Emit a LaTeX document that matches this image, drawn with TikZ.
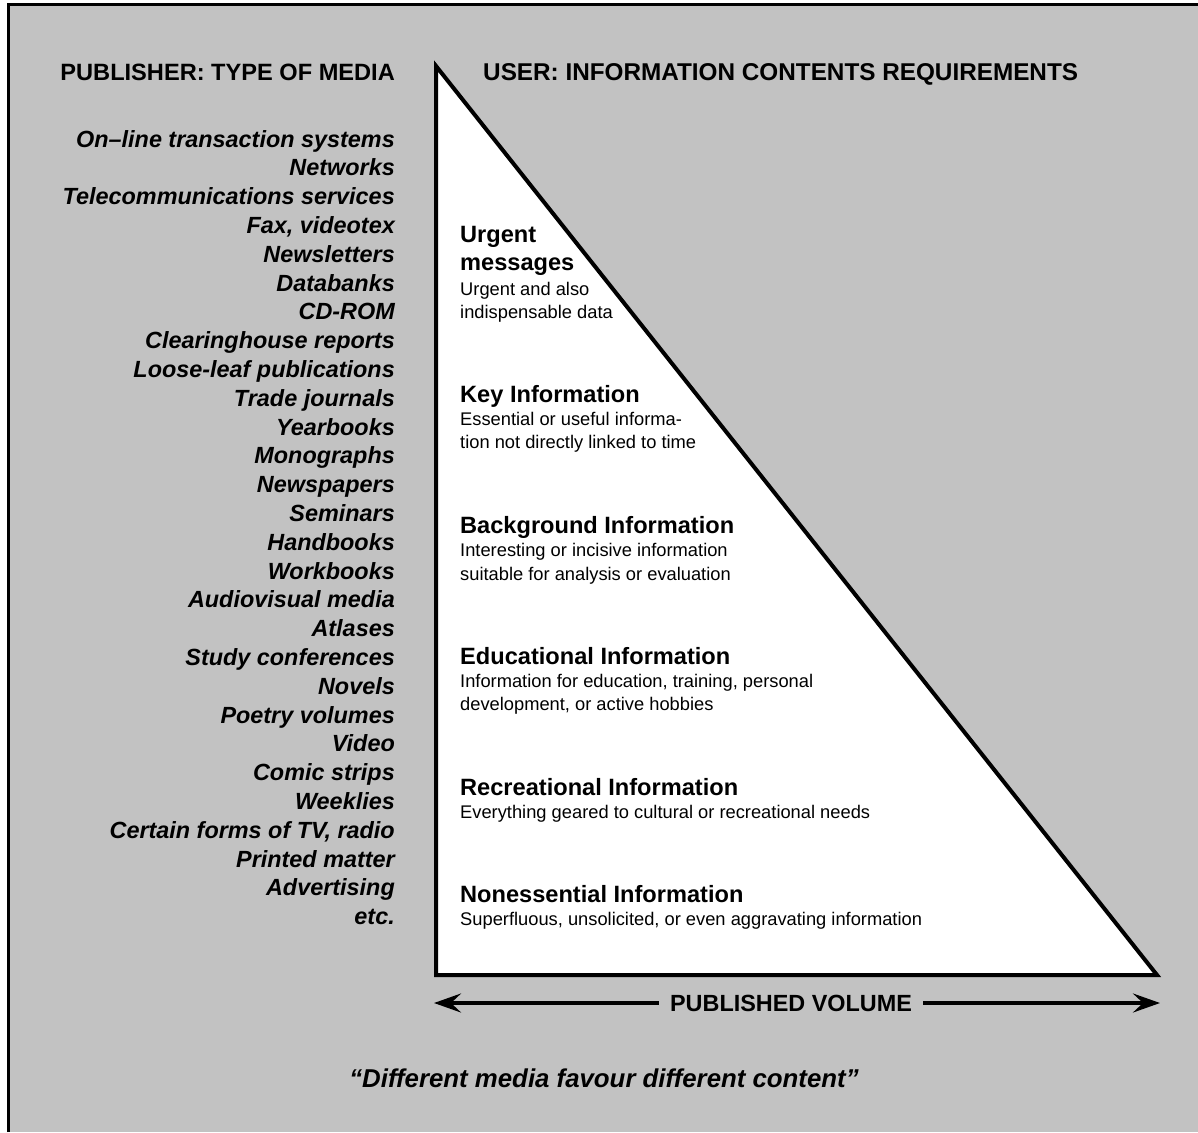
\documentclass[tikz,border=0pt]{standalone}
\usepackage{fontspec}
\setmainfont{Liberation Sans}
\usetikzlibrary{arrows.meta}
\definecolor{paper}{gray}{0.76}
\begin{document}
\begin{tikzpicture}[x=1pt,y=-1pt,
  head/.style={font=\fontsize{23.6}{28}\selectfont\bfseries, inner sep=0pt},
  media/.style={font=\fontsize{23.4}{28}\selectfont\bfseries\itshape, inner sep=0pt, anchor=base east},
  level/.style={font=\fontsize{23.6}{28}\selectfont\bfseries, inner sep=0pt, anchor=base west},
  note/.style={font=\fontsize{18.3}{23}\selectfont, inner sep=0pt, anchor=base west},
  volume/.style={font=\fontsize{23.4}{28}\selectfont\bfseries, inner xsep=11pt, inner ysep=0pt},
  quote/.style={font=\fontsize{25.8}{30}\selectfont\bfseries\itshape, inner sep=0pt, anchor=base},
  pyramid/.style={line width=4pt, fill=white, line join=miter},
  span/.style={line width=3.5pt, -{Stealth[length=27pt,width=19pt,inset=10pt]}}]
\useasboundingbox (0,0) rectangle (1198,1132);

% page and frame
\fill[white] (0,0) rectangle (1198,1132);
\fill[paper] (8,5) rectangle (1198,1132);
\draw[line width=3pt] (8,1132) -- (8,5) -- (1198,5);

% column headings
\node[head, anchor=base east] (pubhead) at (395,80) {PUBLISHER: TYPE OF MEDIA};
\node[head, anchor=base west, font=\fontsize{24.3}{28}\selectfont\bfseries] (userhead) at (483,80) {USER: INFORMATION CONTENTS REQUIREMENTS};

% the information pyramid
\coordinate (apex) at (436,66);
\coordinate (bl) at (436,975);
\coordinate (br) at (1157,975);
\draw[pyramid] (apex) -- (bl) -- (br) -- cycle;

% types of media
\foreach \t [count=\i] in {On--line transaction systems, Networks, Telecommunications services,
  {Fax, videotex}, Newsletters, Databanks, CD-ROM, Clearinghouse reports, Loose-leaf publications,
  Trade journals, Yearbooks, Monographs, Newspapers, Seminars, Handbooks, Workbooks,
  Audiovisual media, Atlases, Study conferences, Novels, Poetry volumes, Video, Comic strips,
  Weeklies, {Certain forms of TV, radio}, Printed matter, Advertising\hspace{6pt}, etc.}
  \node[media] (m\i) at (395,{147+28.8*(\i-1)}) {\t};

% information levels
\node[level] (urg1) at (460,242) {Urgent};
\node[level] (urg2) at (460,270) {messages};
\node[note] (urg3) at (460,295) {Urgent and also};
\node[note] (urg4) at (460,318) {indispensable data};

\node[level] (key1) at (460,402) {Key Information};
\node[note] (key2) at (460,425) {Essential or useful informa-};
\node[note] (key3) at (460,448) {tion not directly linked to time};

\node[level] (bg1) at (460,533) {Background Information};
\node[note] (bg2) at (460,556) {Interesting or incisive information};
\node[note] (bg3) at (460,580) {suitable for analysis or evaluation};

\node[level] (edu1) at (460,664) {Educational Information};
\node[note] (edu2) at (460,687) {Information for education, training, personal};
\node[note] (edu3) at (460,710) {development, or active hobbies};

\node[level] (rec1) at (460,795) {Recreational Information};
\node[note] (rec2) at (460,818) {Everything geared to cultural or recreational needs};

\node[level] (non1) at (460,902) {Nonessential Information};
\node[note] (non2) at (460,925) {Superfluous, unsolicited, or even aggravating information};

% published volume axis
\node[volume] (pv) at (791,1003) {PUBLISHED VOLUME};
\coordinate (pvl) at (434,1003);
\coordinate (pvr) at (1160,1003);
\draw[span] (pv.west) -- (pvl);
\draw[span] (pv.east) -- (pvr);

% motto
\node[quote] (motto) at (604,1087) {“Different media favour different content”};
\end{tikzpicture}
\end{document}
